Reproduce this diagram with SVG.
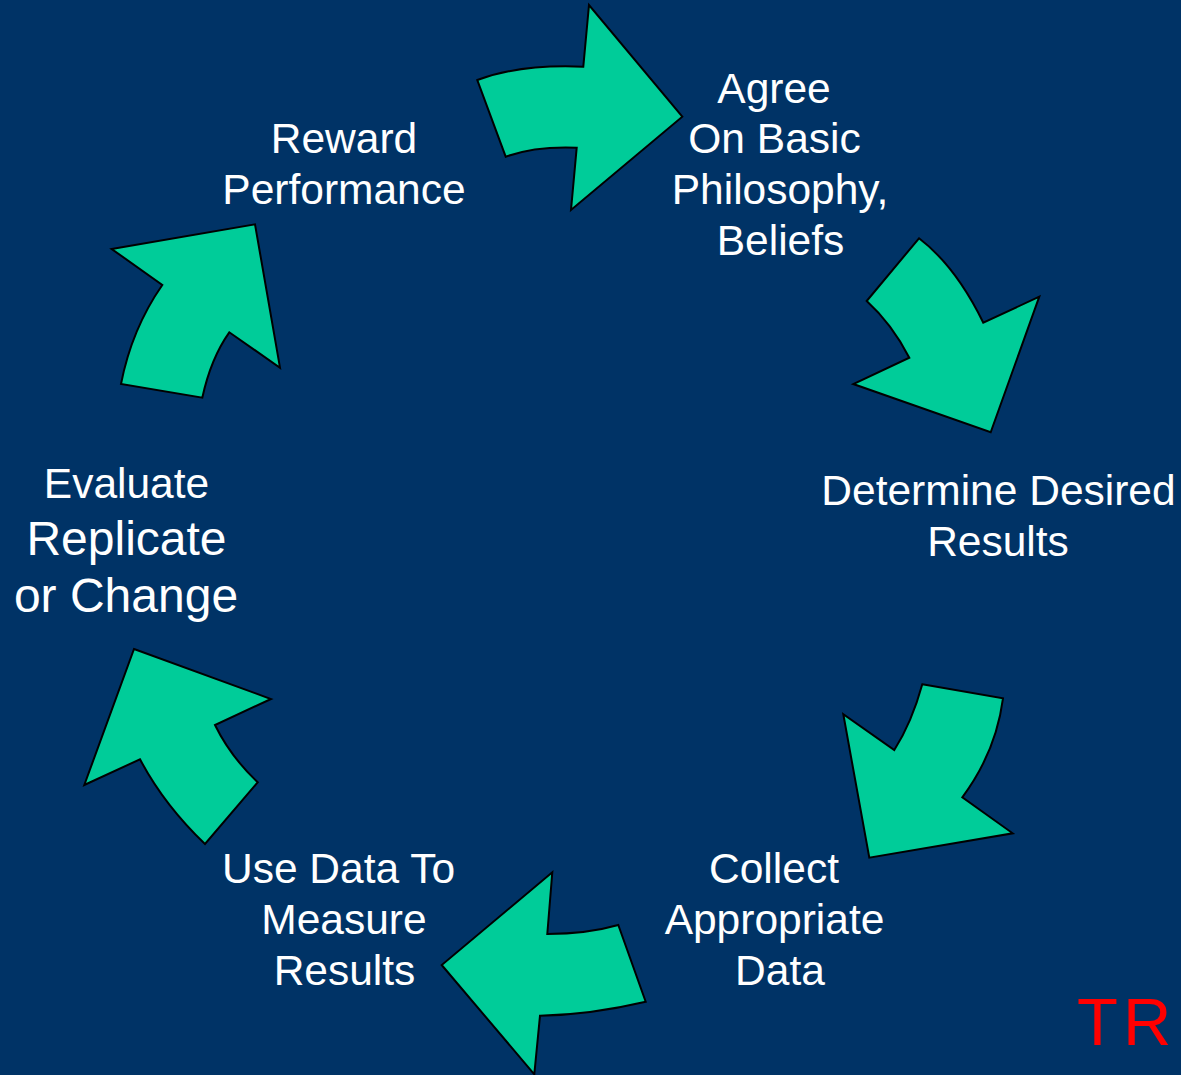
<svg xmlns="http://www.w3.org/2000/svg" width="1181" height="1075" viewBox="0 0 1181 1075">
  <style>
    .bg { fill: #003366; }
    .arrow { fill: #00CC99; stroke: #000000; stroke-width: 2; stroke-linejoin: miter; }
    .label { font-family: "Liberation Sans", Arial, sans-serif; font-size: 42.5px; fill: #FFFFFF; text-anchor: middle; }
    .big { font-size: 48px; }
    .mark { font-family: "Liberation Sans", Arial, sans-serif; font-size: 67px; letter-spacing: 5px; fill: #FF0000; }
  </style>

  <rect class="bg" x="0" y="0" width="1181" height="1075"/>

  <!-- curved arrows of the cycle -->
  <g id="connectors">
    <path id="arrow-reward-to-agree" class="arrow" d="M477.3,80 Q520,64 583.3,66.7 L589,5 L682.3,116.7 L571,210 L576.7,147.7 Q535,146 505.7,156.7 Z"/>
    <path id="arrow-agree-to-determine" class="arrow" d="M919,238.3 Q955.6,266.1 983.3,322.7 L1039.3,296.7 L990.7,432.3 L853.3,384 L909.3,357.7 Q892,324 866.7,301 Z"/>
    <path id="arrow-determine-to-collect" class="arrow" d="M922.3,684.3 L1003,698.3 Q996,752 962.3,797.3 L1012.7,833.3 L869.3,857.7 L843.3,714.3 L894.3,750 Q911.7,722.8 922.3,684.3 Z"/>
    <path id="arrow-collect-to-use" class="arrow" d="M618.3,925 L645.7,1001.7 Q590.5,1014.7 540,1015.7 L534.3,1074.3 L441.7,965 L552.3,872.3 L547.3,934 Q587.3,933.9 618.3,925 Z"/>
    <path id="arrow-use-to-evaluate" class="arrow" d="M134,649 L271,699 L215,725 Q230.3,756.3 257.7,782.3 L205,844 Q164.2,805 140,759.3 L84.3,785 Z"/>
    <path id="arrow-evaluate-to-reward" class="arrow" d="M111.7,249 L255,224.3 L280,367.7 L229.3,332.3 Q210.8,358.4 202.3,397.7 L121,384 Q131.75,328.9 162.3,285 Z"/>
  </g>

  <g id="node-agree">
    <text class="label" x="774" y="103">Agree</text>
    <text class="label" x="774.5" y="153">On Basic</text>
    <text class="label" x="780" y="204">Philosophy,</text>
    <text class="label" x="780.5" y="255">Beliefs</text>
  </g>

  <g id="node-determine">
    <text class="label" x="998.5" y="505">Determine Desired</text>
    <text class="label" x="998" y="556">Results</text>
  </g>

  <g id="node-collect">
    <text class="label" x="774" y="883">Collect</text>
    <text class="label" x="774.5" y="934">Appropriate</text>
    <text class="label" x="780" y="985">Data</text>
  </g>

  <g id="node-use-data">
    <text class="label" x="338.5" y="883">Use Data To</text>
    <text class="label" x="344" y="934">Measure</text>
    <text class="label" x="344.5" y="985">Results</text>
  </g>

  <g id="node-evaluate">
    <text class="label" x="126.5" y="498">Evaluate</text>
    <text class="label big" x="126.5" y="555">Replicate</text>
    <text class="label big" x="126" y="612">or Change</text>
  </g>

  <g id="node-reward">
    <text class="label" x="344" y="153">Reward</text>
    <text class="label" x="344" y="204">Performance</text>
  </g>

  <text class="mark" x="1077" y="1045">TR</text>
</svg>
